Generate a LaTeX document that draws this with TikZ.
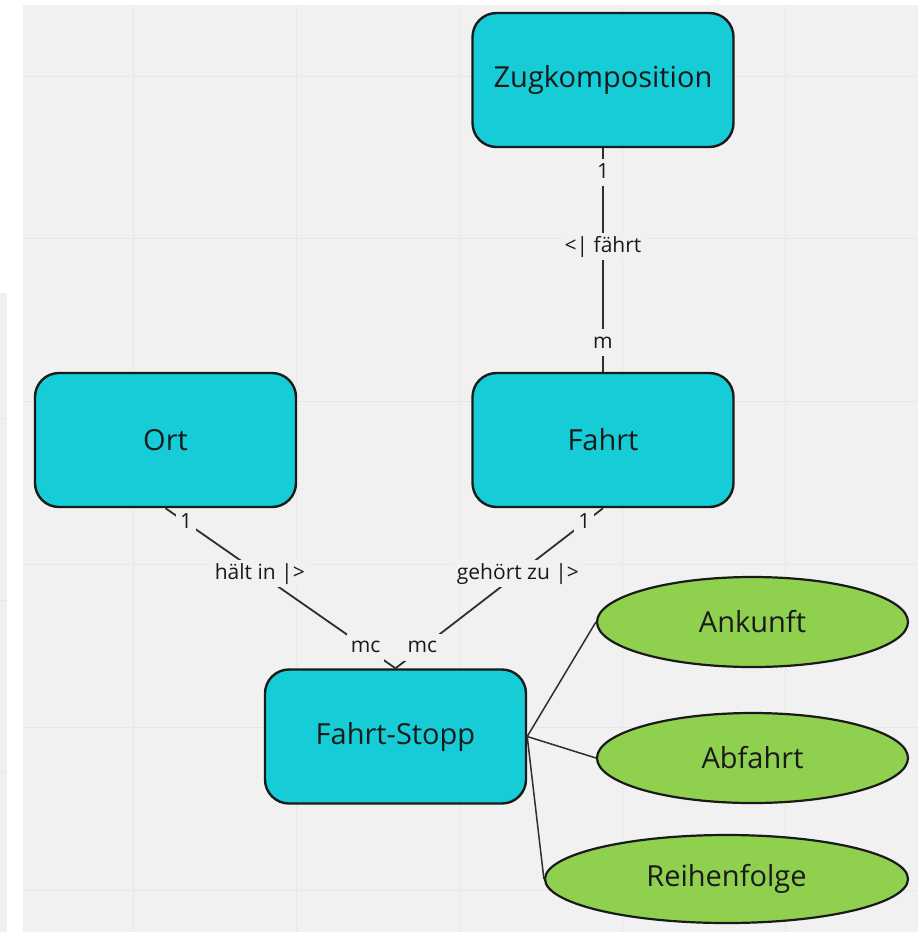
\documentclass[tikz,border=0pt]{standalone}
\usepackage{fontspec}
\setmainfont{Open Sans}
\usetikzlibrary{shapes.geometric}

\definecolor{canvas}{HTML}{F1F1F1}
\definecolor{gridcol}{HTML}{E7E7E7}
\definecolor{panel}{HTML}{EFEFEF}
\definecolor{entfill}{HTML}{16CCD6}
\definecolor{attrfill}{HTML}{8FD14F}
\definecolor{ink}{HTML}{1A1A1A}
\definecolor{wire}{HTML}{2E2E2E}

\tikzset{
  entity/.style={draw=ink, line width=2.4pt, fill=entfill, rounded corners=24pt,
    minimum width=261pt, minimum height=134pt, text=ink,
    font=\fontsize{29}{35}\selectfont},
  attrib/.style={ellipse, draw=ink, line width=2.2pt, fill=attrfill, text=ink,
    inner sep=0pt, font=\fontsize{29}{35}\selectfont},
  rel/.style={draw=wire, line width=1.8pt},
  card/.style={fill=canvas, text=ink, inner sep=4pt,
    text height=15pt, text depth=4pt,
    font=\fontsize{21}{25}\selectfont},
  gridline/.style={draw=gridcol, line width=1pt}
}

\begin{document}
\begin{tikzpicture}[x=1pt,y=-1pt]
  % page and background panels
  \useasboundingbox[fill=white] (0,0) rectangle (921,932);
  \fill[panel] (0,293) rectangle (7,932);
  \draw[gridcol, line width=1pt] (0,418) -- (7,418) (0,600) -- (7,600) (0,772) -- (7,772);
  \fill[canvas] (23,5) rectangle (918,932);

  % canvas grid
  \foreach \gx in {133,296,459,622,785}
    \draw[gridline] (\gx,5) -- (\gx,932);
  \foreach \gy in {76,238,401,564,727,890}
    \draw[gridline] (23,\gy) -- (918,\gy);

  % entities
  \node[entity] (zug)  at (603,80)  {Zugkomposition};
  \node[entity] (ort)  at (165.5,440) {Ort};
  \node[entity] (fahrt) at (603,440) {Fahrt};
  \node[entity] (fs)   at (395.5,736.5) {Fahrt-Stopp};

  % attributes
  \node[attrib, minimum width=311pt, minimum height=90pt] (ank) at (752.5,622) {Ankunft};
  \node[attrib, minimum width=311pt, minimum height=90pt] (abf) at (752.5,758) {Abfahrt};
  \node[attrib, minimum width=363pt, minimum height=88pt] (rf)  at (726.5,879) {Reihenfolge};

  % relationships with cardinalities
  \draw[rel] (zug.south) -- node[card, pos=0.11] {1}
                            node[card, pos=0.44] {<| fährt}
                            node[card, pos=0.87] {m} (fahrt.north);
  \draw[rel] (ort.south) -- node[card, pos=0.09] {1}
                            node[card, pos=0.41] {hält in |>}
                            node[card, pos=0.87] {mc} (fs.north);
  \draw[rel] (fahrt.south) -- node[card, pos=0.09] {1}
                              node[card, pos=0.41] {gehört zu |>}
                              node[card, pos=0.87] {mc} (fs.north);

  % attribute links
  \draw[rel, line width=1.5pt] (fs.east) -- (ank.west);
  \draw[rel, line width=1.5pt] (fs.east) -- (abf.west);
  \draw[rel, line width=1.5pt] (fs.east) -- (rf.west);
\end{tikzpicture}
\end{document}
